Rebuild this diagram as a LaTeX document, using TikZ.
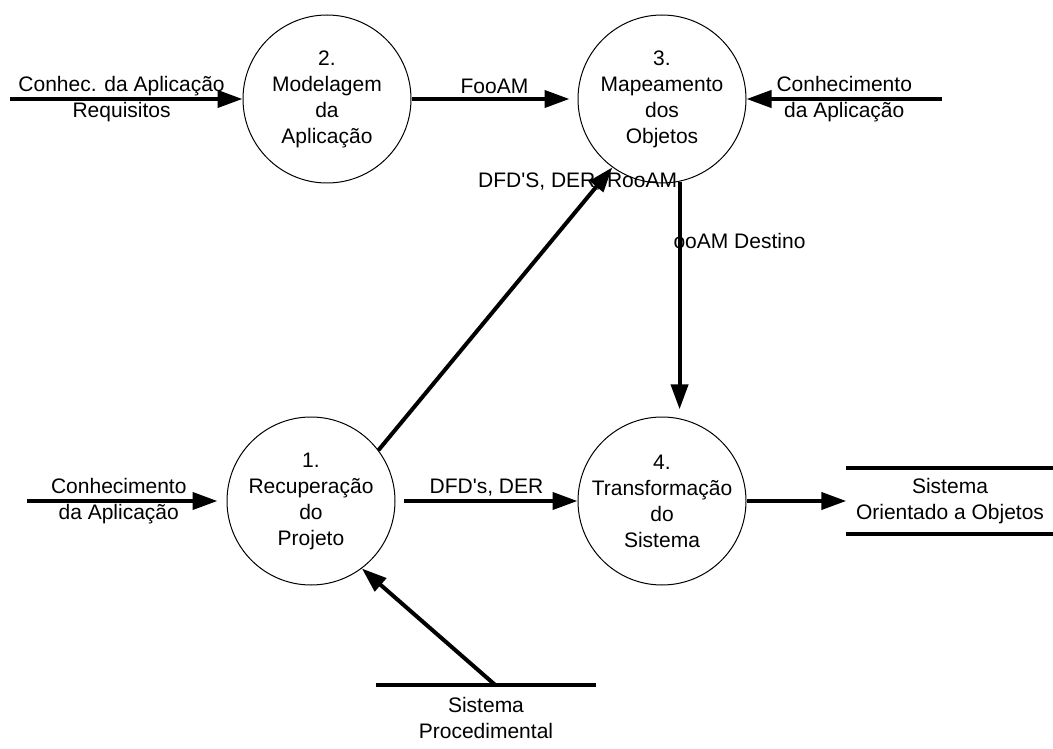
\documentclass[tikz,border=0pt]{standalone}
\usepackage{fontspec}
\setmainfont{Liberation Sans}
\usetikzlibrary{arrows.meta}
\tikzset{
	processo/.style={circle, draw, line width=1pt, minimum size=168pt, inner sep=0pt, align=center},
	fluxo/.style={line width=4pt, -{Triangle[length=25pt, width=17pt]}},
	deposito/.style={minimum width=207pt, minimum height=66pt, inner sep=0pt, align=center},
	rotulo/.style={align=center}
}
\begin{document}
\begin{tikzpicture}[x=1pt, y=-1pt, font=\fontsize{21pt}{26pt}\selectfont]
	\useasboundingbox (0,0) rectangle (1053,749);
	% Processos
	\node [processo] (p1) at (311,501) {1.\\Recuperação\\do\\Projeto};
	\node [processo] (p2) at (327,99) {2.\\Modelagem\\da\\Aplicação};
	\node [processo] (p3) at (662,99) {3.\\Mapeamento\\dos\\Objetos};
	\node [processo] (p4) at (662,501) {4.\\Transformação\\do\\Sistema};
	% Depositos
	\node [deposito] (soo) at (950,501) {Sistema\\Orientado a Objetos};
	\draw [line width=3.5pt] (soo.north west) -- (soo.north east) (soo.south west) -- (soo.south east);
	\node [deposito, minimum width=219pt] (sproc) at (486,718) {Sistema\\Procedimental};
	\draw [line width=3.5pt] (sproc.north west) -- (sproc.north east);
	% Entradas
	\coordinate (e1) at (27,501);
	\coordinate (e2) at (10,99);
	\coordinate (e3) at (942,99);
	\coordinate (e4) at ([xshift=9pt]sproc.north);
	% Fluxos
	\draw [fluxo] (e2) -- (p2) node [rotulo, pos=0.48] {Conhec. da Aplicação\\Requisitos};
	\draw [fluxo, shorten >=8pt] (p2) -- (p3) node [midway, yshift=13pt] {FooAM};
	\draw [fluxo] (e3) -- (p3) node [rotulo, midway] {Conhecimento\\da Aplicação};
	\draw [fluxo, shorten >=9pt] (e1) -- (p1) node [rotulo, pos=0.46] {Conhecimento\\da Aplicação};
	\draw [fluxo, shorten <=8pt] (p1) -- (p4) node [midway, yshift=13pt] {DFD\textquotesingle s, DER};
	\draw [fluxo] (p1.37) -- (p3.234) node [pos=0.95, xshift=-23pt] {DFD\textquotesingle S, DER, RooAM};
	\draw [fluxo, shorten >=9pt] (p3.282) -- (p4.78) node [pos=0.25, anchor=west, inner sep=0pt, xshift=-8pt] {ooAM Destino};
	\draw [fluxo] (p4) -- (soo);
	\draw [fluxo] (e4) -- (p1.307);
\end{tikzpicture}
\end{document}
